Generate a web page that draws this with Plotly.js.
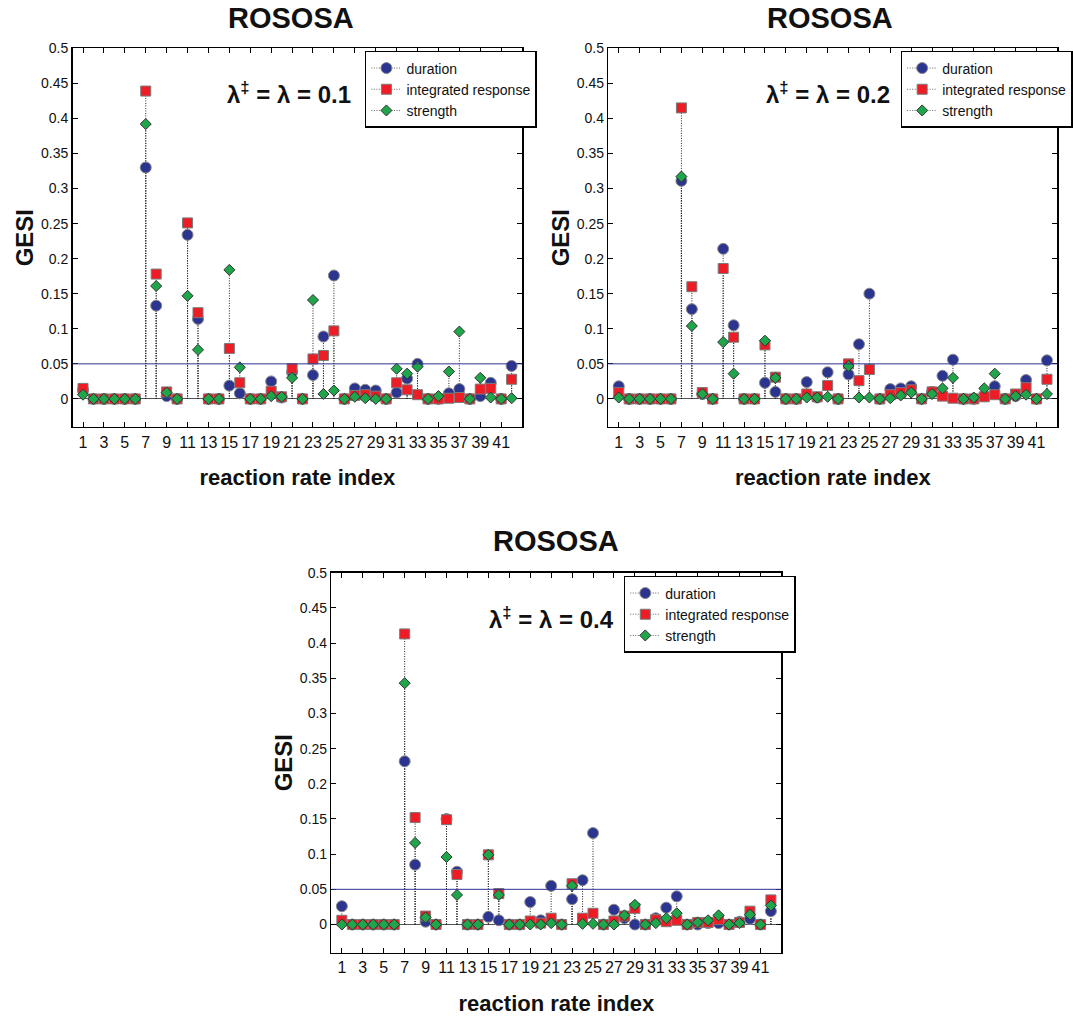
<!DOCTYPE html>
<html><head><meta charset="utf-8">
<script src="https://cdn.plot.ly/plotly-3.0.1.min.js"></script>
<style>body{margin:0;background:#fff}</style>
</head><body><div id="chart" style="width:1073px;height:1019px"></div>
<script>
const reactionIndex = Array.from({length: 42}, (_, i) => i + 1);
const xTickValues = [1,3,5,7,9,11,13,15,17,19,21,23,25,27,29,31,33,35,37,39,41];
const seriesNames = ['duration', 'integrated response', 'strength'];
const panelTitle = 'ROSOSA';
const panelLambda = ['λ<sup>‡</sup> = λ = 0.1', 'λ<sup>‡</sup> = λ = 0.2', 'λ<sup>‡</sup> = λ = 0.4'];
const thresholdGESI = 0.05;

const duration01 = [0.013,0,0,0,0,0,0.330,0.133,0.004,0,0.234,0.114,0,0,0.019,0.008,0,0,0.025,0.002,0.038,0,0.034,0.089,0.176,0,0.015,0.013,0.012,0,0.009,0.029,0.050,0,0,0.008,0.014,0,0.004,0.023,0,0.047];
const integrated01 = [0.015,0,0,0,0,0,0.439,0.178,0.010,0,0.251,0.123,0,0,0.072,0.023,0,0,0.011,0.003,0.043,0,0.057,0.062,0.097,0,0.005,0.006,0.004,0,0.023,0.013,0.006,0,0,0.001,0.002,0,0.014,0.015,0,0.028];
const strength01 = [0.006,0,0,0,0,0,0.392,0.161,0.009,0,0.147,0.070,0,0,0.184,0.045,0,0,0.004,0.003,0.030,0,0.141,0.007,0.012,0,0.003,0.001,0,0,0.043,0.036,0.046,0,0.004,0.039,0.096,0,0.030,0.002,0,0.001];

const duration02 = [0.018,0,0,0,0,0,0.311,0.128,0.007,0,0.214,0.105,0,0,0.023,0.010,0,0,0.024,0.002,0.038,0,0.035,0.078,0.150,0,0.014,0.015,0.018,0,0.010,0.033,0.056,0,0,0.004,0.018,0,0.004,0.027,0,0.055];
const integrated02 = [0.009,0,0,0,0,0,0.415,0.160,0.009,0,0.186,0.088,0,0,0.077,0.031,0,0,0.007,0.003,0.019,0,0.050,0.026,0.042,0,0.006,0.009,0.013,0,0.010,0.004,0.001,0,0,0.003,0.006,0,0.007,0.016,0,0.028];
const strength02 = [0.002,0,0,0,0,0,0.317,0.104,0.007,0,0.081,0.036,0,0,0.083,0.030,0,0,0.002,0.002,0.003,0,0.047,0.002,0.002,0,0.001,0.005,0.009,0,0.007,0.015,0.030,0,0.002,0.015,0.036,0,0.004,0.006,0,0.007];

const duration04 = [0.026,0,0,0,0,0,0.232,0.085,0.004,0,0.150,0.075,0,0,0.011,0.006,0,0,0.032,0.006,0.055,0,0.036,0.063,0.130,0,0.021,0.009,0,0,0.009,0.024,0.040,0,0,0.002,0.002,0,0.004,0.008,0,0.019];
const integrated04 = [0.006,0,0,0,0,0,0.413,0.152,0.012,0,0.149,0.071,0,0,0.099,0.044,0,0,0.005,0.002,0.009,0,0.058,0.009,0.016,0,0.005,0.012,0.023,0,0.007,0.004,0.006,0,0.003,0.003,0.007,0,0.003,0.019,0,0.035];
const strength04 = [0,0,0,0,0,0,0.343,0.116,0.010,0,0.096,0.042,0,0,0.099,0.042,0,0,0,0,0.002,0,0.055,0.001,0.001,0,0,0.013,0.028,0,0.002,0.009,0.016,0,0.003,0.006,0.013,0,0.002,0.014,0,0.027];

const panels = [
  {series: [duration01, integrated01, strength01], label: panelLambda[0]},
  {series: [duration02, integrated02, strength02], label: panelLambda[1]},
  {series: [duration04, integrated04, strength04], label: panelLambda[2]}
];

const FONT = 'Liberation Sans, Arial, sans-serif';
const NARROW = 'Liberation Sans Narrow, Arial Narrow, Liberation Sans, sans-serif';
const markerStyles = [
  {symbol: 'circle', size: 11, color: '#2b3590', line: {color: '#8a8a8a', width: 1}},
  {symbol: 'square', size: 10, color: '#ee1c25', line: {color: '#7a7a7a', width: 1}},
  {symbol: 'diamond', size: 8.5, color: '#1fa64b', line: {color: '#333333', width: 1}}
];
const stemLine = {color: '#222222', width: 1, dash: '1px,1.5px'};

const dom = [
  {x: [0.0680, 0.4893], y: [0.5810, 0.9526], legend: {x: 0.342, y: 0.9500}, title: {x: 293/1073, y: 1}, lam: {x: 291/1073, y: 1 - 93/1019}},
  {x: [0.5701, 0.9910], y: [0.5810, 0.9526], legend: {x: 0.8441, y: 0.9500}, title: {x: 835/1073, y: 1}, lam: {x: 833/1073, y: 1 - 93/1019}},
  {x: [0.3106, 0.7323], y: [0.0651, 0.4380], legend: {x: 0.5846, y: 0.4348}, title: {x: 559/1073, y: 1 - 523/1019}, lam: {x: 555/1073, y: 1 - 618/1019}}
];

const traces = [];
const layout = {
  width: 1073, height: 1019,
  margin: {l: 0, r: 0, t: 0, b: 0},
  paper_bgcolor: '#ffffff', plot_bgcolor: '#ffffff',
  showlegend: true,
  annotations: [], shapes: []
};

panels.forEach((p, k) => {
  const sfx = k === 0 ? '' : String(k + 1);
  const xa = 'x' + sfx, ya = 'y' + sfx;
  const legName = 'legend' + sfx;
  p.series.forEach((vals, s) => {
    const sx = [], sy = [];
    reactionIndex.forEach((xi, i) => { sx.push(xi, xi, null); sy.push(0, vals[i], null); });
    traces.push({type: 'scatter', mode: 'lines', x: sx, y: sy, xaxis: xa, yaxis: ya,
      line: stemLine, showlegend: false, hoverinfo: 'skip'});
  });
  p.series.forEach((vals, s) => {
    traces.push({type: 'scatter', mode: 'markers', x: reactionIndex, y: vals, xaxis: xa, yaxis: ya,
      name: seriesNames[s], marker: markerStyles[s], showlegend: false});
  });
  p.series.forEach((vals, s) => {
    traces.push({type: 'scatter', mode: 'lines+markers', x: [null], y: [null], xaxis: xa, yaxis: ya,
      name: seriesNames[s], marker: markerStyles[s], line: {color: '#666666', width: 1, dash: '1px,1.5px'},
      legend: legName, showlegend: true});
  });

  layout['xaxis' + sfx] = {
    domain: dom[k].x, anchor: ya, range: [0, 43], tickmode: 'array', tickvals: xTickValues,
    ticks: 'inside', ticklen: 5, tickwidth: 1, tickcolor: '#000', mirror: 'ticks',
    showline: true, linecolor: '#000', linewidth: 1.5, showgrid: false, zeroline: false,
    tickfont: {family: NARROW, size: 16, color: '#111'},
    title: {text: 'reaction rate index', font: {family: FONT, size: 22, color: '#111', weight: 'bold'}, standoff: 20}
  };
  layout['yaxis' + sfx] = {
    domain: dom[k].y, anchor: xa, range: [-0.04, 0.5], tick0: 0, dtick: 0.05,
    ticks: 'inside', ticklen: 5, tickwidth: 1, tickcolor: '#000', mirror: 'ticks',
    showline: true, linecolor: '#000', linewidth: 1.5, showgrid: false,
    zeroline: true, zerolinecolor: '#555555', zerolinewidth: 1,
    tickfont: {family: FONT, size: 14, color: '#111'},
    title: {text: 'GESI', font: {family: FONT, size: 24, color: '#111', weight: 'bold'}, standoff: 0}
  };
  layout[legName] = {
    x: dom[k].legend.x, y: dom[k].legend.y, xanchor: 'left', yanchor: 'top',
    xref: 'paper', yref: 'paper',
    bgcolor: '#ffffff', bordercolor: '#000', borderwidth: 1.5,
    font: {family: FONT, size: 14, color: '#111'}, itemwidth: 30, tracegroupgap: 0
  };
  layout.shapes.push({type: 'line', xref: xa, yref: ya, x0: 0, x1: 43, y0: thresholdGESI, y1: thresholdGESI,
    line: {color: '#2e3192', width: 1}});
  layout.annotations.push({xref: 'paper', yref: 'paper', x: dom[k].title.x, y: dom[k].title.y,
    xanchor: 'center', yanchor: 'top', showarrow: false,
    text: panelTitle, font: {family: FONT, size: 29, color: '#111', weight: 'bold'}});
  layout.annotations.push({xref: 'paper', yref: 'paper', x: dom[k].lam.x, y: dom[k].lam.y,
    xanchor: 'center', yanchor: 'middle', showarrow: false,
    text: p.label, font: {family: FONT, size: 24, color: '#111', weight: 'bold'}});
});

Plotly.newPlot('chart', traces, layout, {staticPlot: true});
</script></body></html>
